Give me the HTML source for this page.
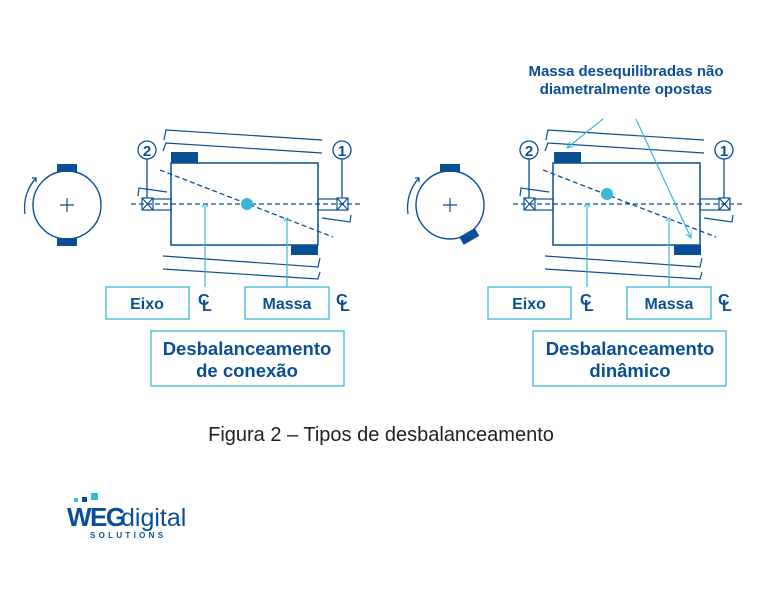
<!DOCTYPE html>
<html><head><meta charset="utf-8"><style>
body{margin:0;background:#fff;width:763px;height:595px;overflow:hidden}
svg{display:block}
text{font-family:"Liberation Sans",sans-serif}
</style></head><body>
<svg width="763" height="595" viewBox="0 0 763 595">
<defs>
<marker id="ar" markerWidth="8" markerHeight="8" refX="6" refY="4" orient="auto" markerUnits="userSpaceOnUse"><path d="M0,1 L6,4 L0,7" fill="none" stroke="#3bb8d8" stroke-width="1"/></marker>
<g id="machine">
 <g fill="none" stroke="#0a4f96" stroke-width="1.2">
  <path d="M164,140 L166,130 L322,140"/>
  <path d="M163,151 L166,143 L322,153"/>
  <path d="M163,256 L318,267 L320,258"/>
  <path d="M163,269 L318,279 L320,272"/>
  <path d="M138,196 L139,188 L167,192"/>
  <path d="M322,218 L350,222 L351,215"/>
 </g>
 <rect x="171" y="163" width="147" height="82" fill="none" stroke="#0a4f96" stroke-width="1.5"/>
 <rect x="146" y="199" width="25" height="11" fill="none" stroke="#0a4f96" stroke-width="1.2"/>
 <rect x="318" y="199" width="27" height="11" fill="none" stroke="#0a4f96" stroke-width="1.2"/>
 <g stroke="#0a4f96" stroke-width="1.2" fill="#fff">
  <rect x="142" y="198" width="11" height="12"/><path d="M142,198 L153,210 M153,198 L142,210"/>
  <rect x="337" y="198" width="11" height="12"/><path d="M337,198 L348,210 M348,198 L337,210"/>
 </g>
 <line x1="131" y1="204" x2="360" y2="204" stroke="#0a4f96" stroke-width="1.3" stroke-dasharray="5,3"/>
 <g fill="#fff" stroke="#0a4f96" stroke-width="1.3">
  <line x1="147" y1="159" x2="147" y2="198"/><line x1="342" y1="159" x2="342" y2="198"/>
  <circle cx="147" cy="150" r="9"/><circle cx="342" cy="150" r="9"/>
 </g>
 <text x="147" y="156" font-size="15" font-weight="bold" fill="#0a4f96" text-anchor="middle">2</text>
 <text x="342" y="156" font-size="15" font-weight="bold" fill="#0a4f96" text-anchor="middle">1</text>
 <rect x="106" y="287" width="83" height="32" fill="none" stroke="#3bb8d8" stroke-width="1.3"/>
 <rect x="245" y="287" width="84" height="32" fill="none" stroke="#3bb8d8" stroke-width="1.3"/>
 <text x="147" y="309" font-size="16" font-weight="bold" fill="#0a4f96" text-anchor="middle">Eixo</text>
 <text x="287" y="309" font-size="16" font-weight="bold" fill="#0a4f96" text-anchor="middle">Massa</text>
 <g fill="#0a4f96" font-weight="bold" font-size="16"><text x="198" y="305">C</text><text x="202" y="311">L</text><text x="336" y="305">C</text><text x="340" y="311">L</text></g>
 <rect x="151" y="331" width="193" height="55" fill="none" stroke="#3bb8d8" stroke-width="1.3"/>
 <g stroke="#3bb8d8" stroke-width="1.2" fill="none"><line x1="205" y1="206" x2="205" y2="287"/><path d="M202,207 L205,204 L208,207"/></g>
</g>
</defs>

<use href="#machine"/>
<circle cx="67" cy="205" r="34" fill="none" stroke="#0a4f96" stroke-width="1.4"/>
<rect x="57" y="164" width="20" height="8" fill="#0a4f96"/>
<rect x="57" y="238" width="20" height="8" fill="#0a4f96"/>
<path d="M60,205 H74 M67,198 V212" stroke="#0a4f96" stroke-width="1.2"/>
<path d="M25,214 A44,44 0 0 1 36,178" fill="none" stroke="#0a4f96" stroke-width="1.3"/>
<path d="M32,178 L36,178 L36,182" fill="none" stroke="#0a4f96" stroke-width="1.3"/>
<rect x="171" y="152" width="27" height="11" fill="#0a4f96"/>
<rect x="291" y="245" width="27" height="10" fill="#0a4f96"/>
<line x1="160" y1="170" x2="333" y2="237" stroke="#0a4f96" stroke-width="1.3" stroke-dasharray="5,3"/>
<circle cx="247" cy="204" r="6" fill="#3bb8d8"/>
<g stroke="#3bb8d8" stroke-width="1.2" fill="none"><line x1="287" y1="220" x2="287" y2="287"/><path d="M284,221 L287,218 L290,221"/></g>
<text x="247" y="355" font-size="18.5" font-weight="bold" fill="#0a4f96" text-anchor="middle">Desbalanceamento</text>
<text x="247" y="377" font-size="18.5" font-weight="bold" fill="#0a4f96" text-anchor="middle">de conexão</text>

<use href="#machine" transform="translate(382,0)"/>
<circle cx="450" cy="205" r="34" fill="none" stroke="#0a4f96" stroke-width="1.4"/>
<rect x="440" y="164" width="20" height="8" fill="#0a4f96"/>
<rect x="460" y="232" width="18" height="9" fill="#0a4f96" transform="rotate(-30 469 236)"/>
<path d="M443,205 H457 M450,198 V212" stroke="#0a4f96" stroke-width="1.2"/>
<path d="M408,214 A44,44 0 0 1 419,178" fill="none" stroke="#0a4f96" stroke-width="1.3"/>
<path d="M415,178 L419,178 L419,182" fill="none" stroke="#0a4f96" stroke-width="1.3"/>
<rect x="554" y="152" width="27" height="11" fill="#0a4f96"/>
<rect x="674" y="245" width="27" height="10" fill="#0a4f96"/>
<line x1="543" y1="170" x2="716" y2="237" stroke="#0a4f96" stroke-width="1.3" stroke-dasharray="5,3"/>
<circle cx="607" cy="194" r="6" fill="#3bb8d8"/>
<g stroke="#3bb8d8" stroke-width="1.2" fill="none"><line x1="669" y1="220" x2="669" y2="287"/><path d="M666,221 L669,218 L672,221"/></g>
<line x1="603" y1="119" x2="567" y2="148" stroke="#3bb8d8" stroke-width="1.2" marker-end="url(#ar)"/>
<line x1="636" y1="119" x2="691" y2="238" stroke="#3bb8d8" stroke-width="1.2" marker-end="url(#ar)"/>
<text x="626" y="76" font-size="15" font-weight="bold" fill="#0a4f96" text-anchor="middle">Massa desequilibradas não</text>
<text x="626" y="94" font-size="15" font-weight="bold" fill="#0a4f96" text-anchor="middle">diametralmente opostas</text>
<text x="630" y="355" font-size="18.5" font-weight="bold" fill="#0a4f96" text-anchor="middle">Desbalanceamento</text>
<text x="630" y="377" font-size="18.5" font-weight="bold" fill="#0a4f96" text-anchor="middle">dinâmico</text>

<text x="381" y="441" font-size="20" fill="#222" text-anchor="middle">Figura 2 – Tipos de desbalanceamento</text>

<rect x="74" y="498" width="4" height="4" fill="#3bb8d8"/>
<rect x="82" y="497" width="5" height="5" fill="#0a4f96"/>
<rect x="91" y="493" width="7" height="7" fill="#3bb8d8"/>
<text x="67" y="526" font-size="26" font-weight="bold" fill="#0a4f96" letter-spacing="-1.5">WEG</text>
<text x="121" y="526" font-size="25" fill="#0a4f96">digital</text>
<text x="90" y="538" font-size="8" font-weight="bold" fill="#0a4f96" letter-spacing="3.3">SOLUTIONS</text>
</svg>
</body></html>
